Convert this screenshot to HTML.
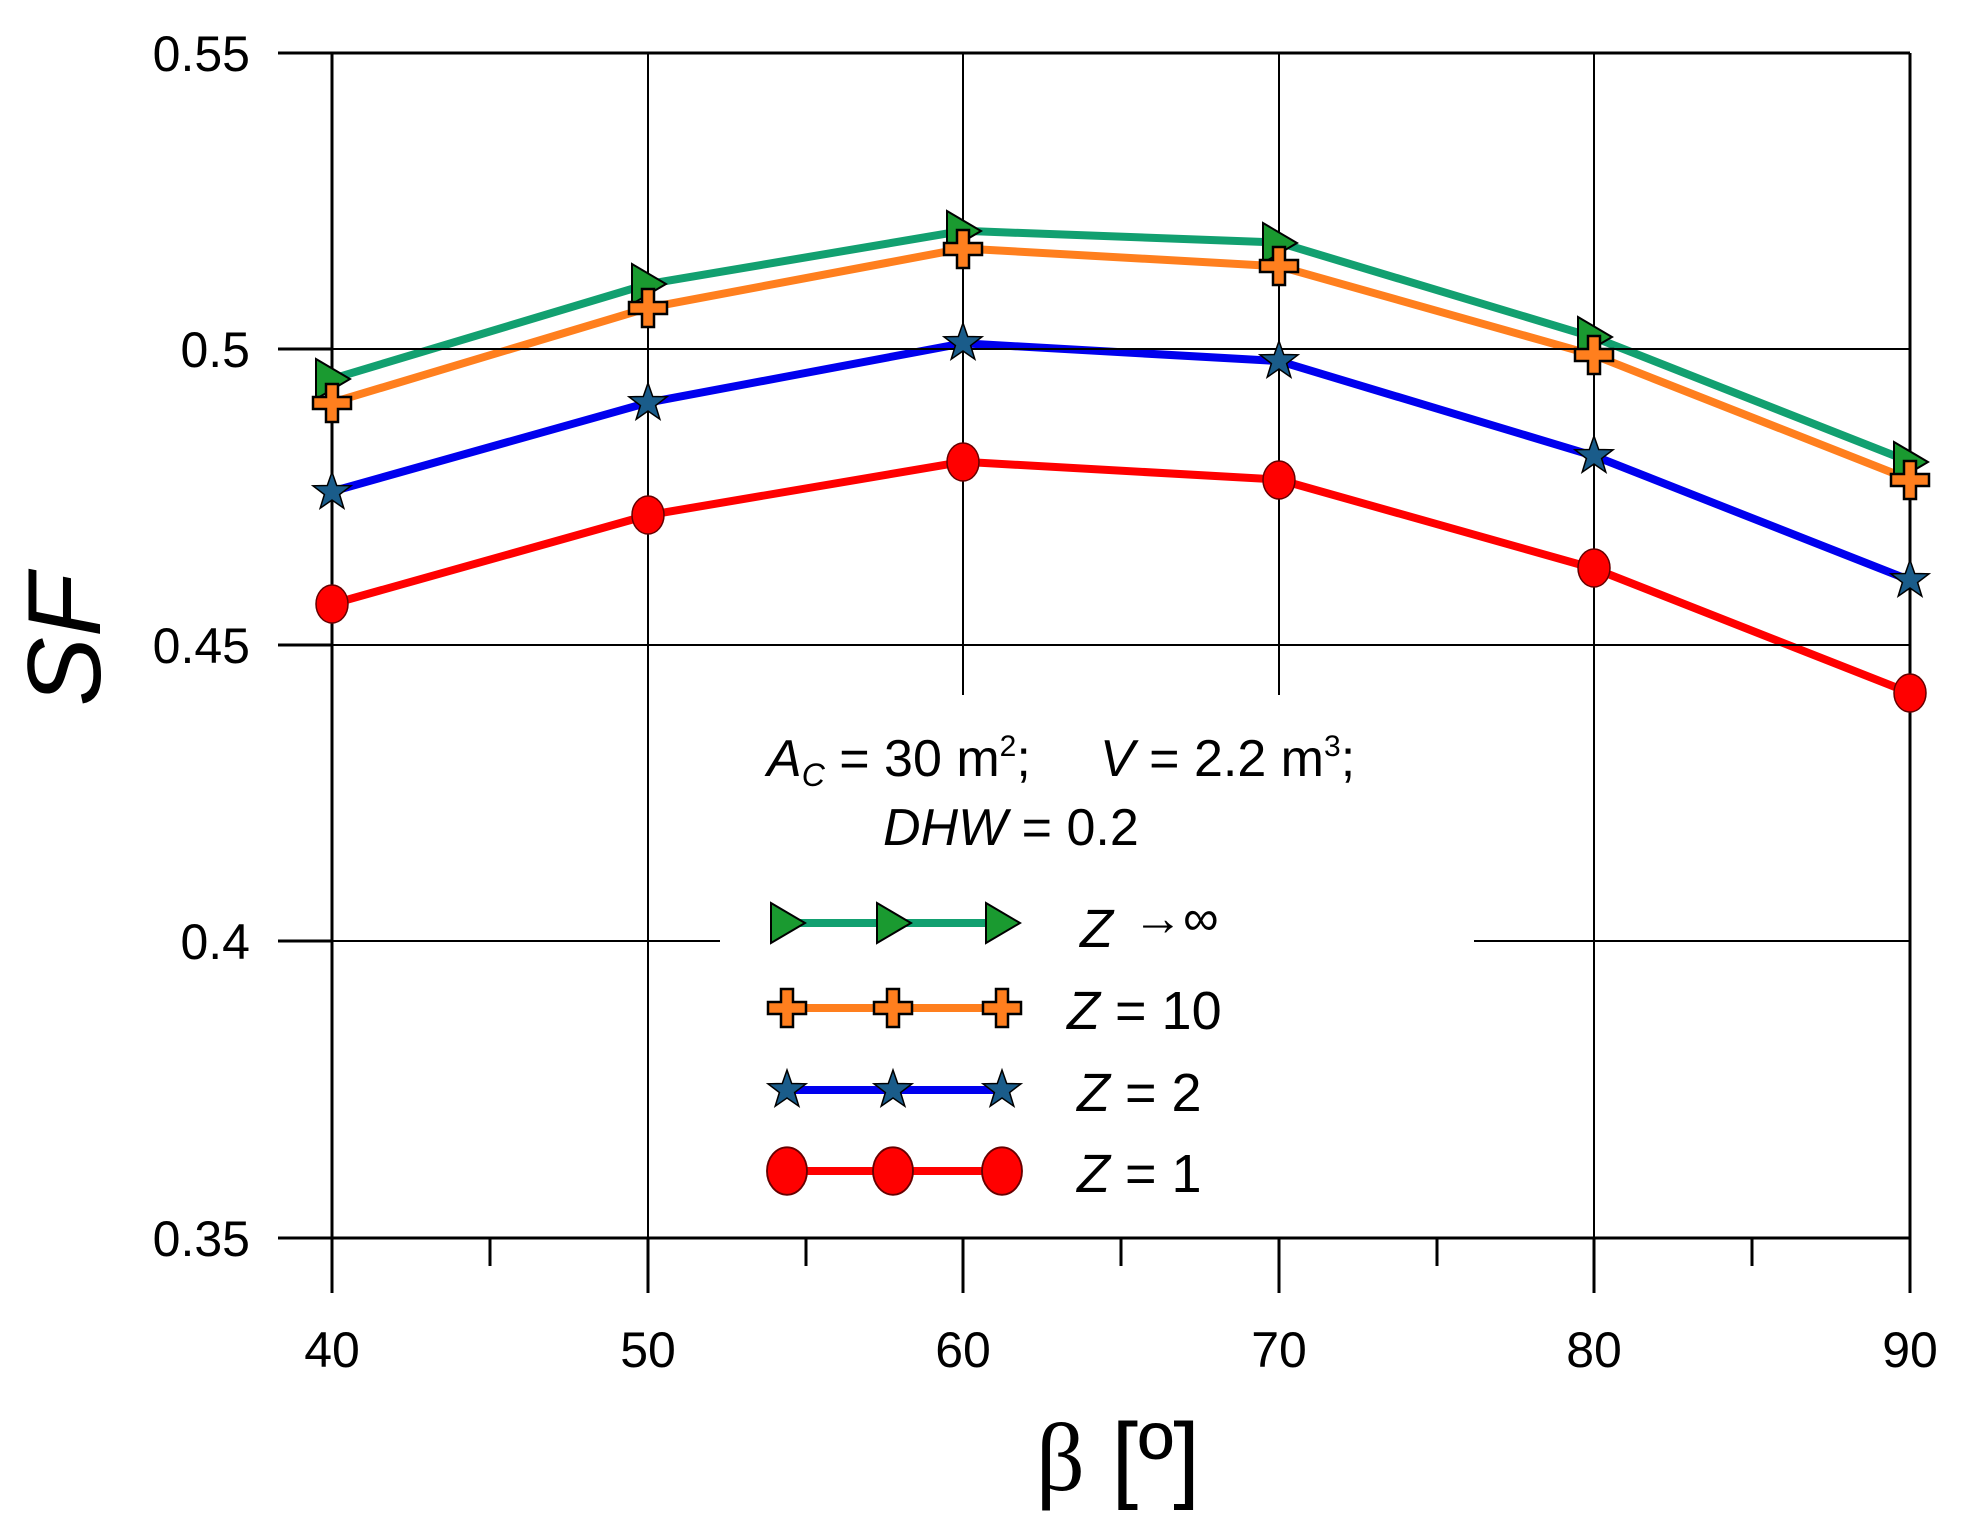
<!DOCTYPE html>
<html><head><meta charset="utf-8"><style>body{margin:0;background:#fff}svg{display:block}</style></head>
<body>
<svg width="1965" height="1536" viewBox="0 0 1965 1536" xmlns="http://www.w3.org/2000/svg" font-family="Liberation Sans, sans-serif">
<defs>
<g id="tri"><path d="M-16,-20 L18,0 L-16,20 Z" fill="#1a9a30" stroke="#000" stroke-width="2"/></g>
<g id="plus"><path d="M-6,-19 H6 V-6 H19 V6 H6 V19 H-6 V6 H-19 V-6 H-6 Z" fill="#ff7f1e" stroke="#000" stroke-width="2.5"/></g>
<g id="star"><path d="M0,-20 L4.7,-6.5 L19,-6.2 L7.6,2.5 L11.8,16.2 L0,8 L-11.8,16.2 L-7.6,2.5 L-19,-6.2 L-4.7,-6.5 Z" fill="#1a5c8a" stroke="#000" stroke-width="1.5"/></g>
<g id="circ"><ellipse rx="16" ry="19" fill="#ff0000" stroke="#600" stroke-width="1.5"/></g>
</defs>
<g stroke="#000" stroke-width="3" fill="none">
<line x1="278" y1="53" x2="1910" y2="53"/>
<line x1="278" y1="1238" x2="1910" y2="1238"/>
<line x1="332" y1="53" x2="332" y2="1293"/>
<line x1="1910" y1="53" x2="1910" y2="1293"/>
<line x1="278" y1="349" x2="332" y2="349"/>
<line x1="278" y1="645" x2="332" y2="645"/>
<line x1="278" y1="941" x2="332" y2="941"/>
<line x1="648" y1="1238" x2="648" y2="1293"/>
<line x1="963" y1="1238" x2="963" y2="1293"/>
<line x1="1279" y1="1238" x2="1279" y2="1293"/>
<line x1="1594" y1="1238" x2="1594" y2="1293"/>
<line x1="490" y1="1238" x2="490" y2="1266"/>
<line x1="806" y1="1238" x2="806" y2="1266"/>
<line x1="1121" y1="1238" x2="1121" y2="1266"/>
<line x1="1437" y1="1238" x2="1437" y2="1266"/>
<line x1="1752" y1="1238" x2="1752" y2="1266"/>
</g>
<g fill="none" stroke-width="8" stroke-linejoin="round">
<polyline stroke="#12a070" points="332,378.9 648,284.1 963,230.8 1279,242.6 1594,337.4 1910,461.8"/>
<polyline stroke="#ff7f1e" points="332,402.6 648,307.8 963,248.5 1279,266.3 1594,355.2 1910,479.6"/>
<polyline stroke="#0000ee" points="332,491.5 648,402.6 963,343.3 1279,361.1 1594,455.9 1910,580.3"/>
<polyline stroke="#ff0000" points="332,604.0 648,515.2 963,461.8 1279,479.6 1594,568.5 1910,692.9"/>
</g>
<g stroke="#000" stroke-width="2">
<line x1="332" y1="349" x2="1910" y2="349"/>
<line x1="332" y1="645" x2="1910" y2="645"/>
<line x1="332" y1="941" x2="720" y2="941"/>
<line x1="1474" y1="941" x2="1910" y2="941"/>
<line x1="648" y1="53" x2="648" y2="1238"/>
<line x1="963" y1="53" x2="963" y2="695"/>
<line x1="1279" y1="53" x2="1279" y2="695"/>
<line x1="1594" y1="53" x2="1594" y2="1238"/>
</g>
<g>
<use href="#tri" x="332" y="379"/><use href="#tri" x="648" y="284"/><use href="#tri" x="963" y="231"/><use href="#tri" x="1279" y="243"/><use href="#tri" x="1594" y="337"/><use href="#tri" x="1910" y="462"/>
<use href="#plus" x="332" y="403"/><use href="#plus" x="648" y="308"/><use href="#plus" x="963" y="249"/><use href="#plus" x="1279" y="266"/><use href="#plus" x="1594" y="355"/><use href="#plus" x="1910" y="480"/>
<use href="#star" x="332" y="492"/><use href="#star" x="648" y="403"/><use href="#star" x="963" y="343"/><use href="#star" x="1279" y="361"/><use href="#star" x="1594" y="456"/><use href="#star" x="1910" y="580"/>
<use href="#circ" x="332" y="604"/><use href="#circ" x="648" y="515"/><use href="#circ" x="963" y="462"/><use href="#circ" x="1279" y="480"/><use href="#circ" x="1594" y="568"/><use href="#circ" x="1910" y="693"/>
</g>
<g font-size="50" text-anchor="end" fill="#000">
<text x="250" y="71">0.55</text>
<text x="250" y="367">0.5</text>
<text x="250" y="663">0.45</text>
<text x="250" y="959">0.4</text>
<text x="250" y="1256">0.35</text>
</g>
<g font-size="50" text-anchor="middle" fill="#000">
<text x="332" y="1367">40</text>
<text x="648" y="1367">50</text>
<text x="963" y="1367">60</text>
<text x="1279" y="1367">70</text>
<text x="1594" y="1367">80</text>
<text x="1910" y="1367">90</text>
</g>
<text transform="translate(100,640) rotate(-90)" font-size="104" font-style="italic" text-anchor="middle">SF</text>
<text x="1118" y="1490" font-size="96" text-anchor="middle"><tspan font-family="Liberation Serif, serif">β</tspan> [º]</text>
<g font-size="52" fill="#000">
<text x="767" y="776"><tspan font-style="italic">A</tspan><tspan font-size="32" font-style="italic" dy="10">C</tspan><tspan dy="-10"> = 30 m</tspan><tspan font-size="30" dy="-20">2</tspan><tspan dy="20">;</tspan><tspan x="1100" font-style="italic">V</tspan> = 2.2 m<tspan font-size="30" dy="-20">3</tspan><tspan dy="20">;</tspan></text>
<text x="883" y="845"><tspan font-style="italic">DHW</tspan> = 0.2</text>
</g>
<g stroke-width="8">
<line x1="787" y1="923" x2="1002" y2="923" stroke="#12a070"/>
<line x1="787" y1="1008" x2="1002" y2="1008" stroke="#ff7f1e"/>
<line x1="787" y1="1090" x2="1002" y2="1090" stroke="#0000ee"/>
<line x1="787" y1="1171" x2="1002" y2="1171" stroke="#ff0000"/>
</g>
<use href="#tri" x="787" y="923"/><use href="#tri" x="893" y="923"/><use href="#tri" x="1002" y="923"/>
<use href="#plus" x="787" y="1008"/><use href="#plus" x="893" y="1008"/><use href="#plus" x="1002" y="1008"/>
<use href="#star" x="787" y="1090"/><use href="#star" x="893" y="1090"/><use href="#star" x="1002" y="1090"/>
<g transform="translate(787,1171) scale(1.25)"><use href="#circ"/></g>
<g transform="translate(893,1171) scale(1.25)"><use href="#circ"/></g>
<g transform="translate(1002,1171) scale(1.25)"><use href="#circ"/></g>
<g font-size="54" fill="#000">
<text x="1080" y="947"><tspan font-style="italic">Z</tspan><tspan x="1133" font-size="50" dy="-12">→∞</tspan></text>
<text x="1067" y="1029"><tspan font-style="italic">Z</tspan> = 10</text>
<text x="1077" y="1111"><tspan font-style="italic">Z</tspan> = 2</text>
<text x="1077" y="1192"><tspan font-style="italic">Z</tspan> = 1</text>
</g>
</svg>
</body></html>
